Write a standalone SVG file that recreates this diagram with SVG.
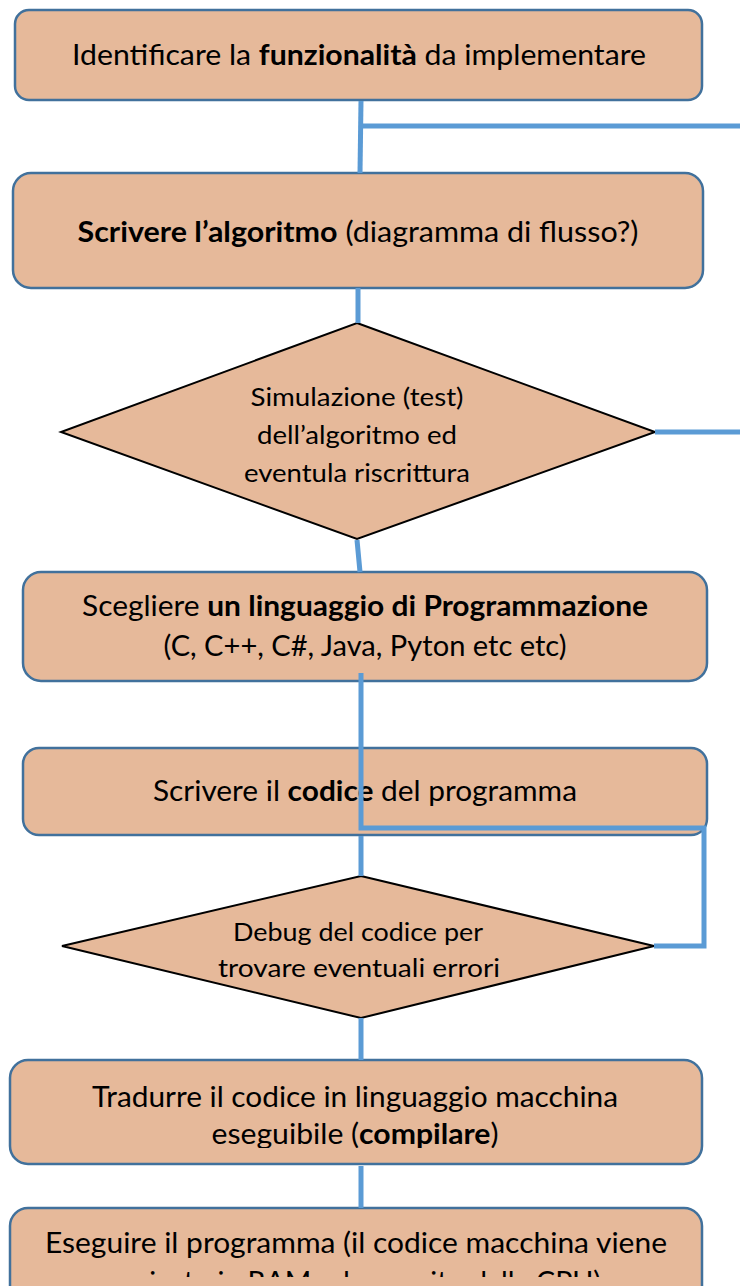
<svg xmlns="http://www.w3.org/2000/svg" width="740" height="1286" viewBox="0 0 740 1286">
<style>
.box{fill:#E6B99A;stroke:#41719C;stroke-width:2.5}
.dia{fill:#E6B99A;stroke:#000;stroke-width:2}
.t{font-family:Lato,"Open Sans","Liberation Sans",sans-serif;font-size:29px;fill:#000;text-anchor:middle}
.d{font-family:Lato,"Open Sans","Liberation Sans",sans-serif;font-size:25px;fill:#000;text-anchor:middle}
.b{font-weight:bold}
.c{fill:none;stroke:#5B9BD5;stroke-width:5}
</style>
<defs>
<clipPath id="clip5"><rect x="0" y="1060" width="740" height="88"/></clipPath>
<clipPath id="clip6"><rect x="0" y="1208" width="740" height="69"/></clipPath>
</defs>
<rect width="740" height="1286" fill="#fff"/>
<g id="n1"><rect class="box" x="15" y="10" width="687" height="90" rx="14"/>
<text class="t" x="359" y="65" textLength="574" lengthAdjust="spacingAndGlyphs">Identificare la <tspan class="b">funzionalità</tspan> da implementare</text></g>
<g id="n2"><rect class="box" x="13" y="173" width="690" height="115" rx="18"/>
<text class="t" x="358" y="242" textLength="561" lengthAdjust="spacingAndGlyphs"><tspan class="b">Scrivere l’algoritmo</tspan> (diagramma di flusso?)</text></g>
<g id="n3"><polygon class="dia" points="357,323 655,432 357,539 61,432"/>
<text class="d" x="357" y="406" textLength="213" lengthAdjust="spacingAndGlyphs">Simulazione (test)</text>
<text class="d" x="357" y="444" textLength="200" lengthAdjust="spacingAndGlyphs">dell’algoritmo ed</text>
<text class="d" x="357" y="482" textLength="226" lengthAdjust="spacingAndGlyphs">eventula riscrittura</text></g>
<g id="n4"><rect class="box" x="23" y="572" width="684" height="109" rx="18"/>
<text class="t" x="365" y="616" textLength="566" lengthAdjust="spacingAndGlyphs">Scegliere <tspan class="b">un linguaggio di Programmazione</tspan></text>
<text class="t" x="365" y="656" textLength="403" lengthAdjust="spacingAndGlyphs">(C, C++, C#, Java, Pyton etc etc)</text></g>
<g id="n5"><rect class="box" x="23" y="748" width="684" height="87" rx="16"/>
<text class="t" x="365" y="801" textLength="424" lengthAdjust="spacingAndGlyphs">Scrivere il <tspan class="b">codice</tspan> del programma</text></g>
<g id="n6"><polygon class="dia" points="361,876 654,946 361,1018 62,946"/>
<text class="d" x="358" y="941" textLength="250" lengthAdjust="spacingAndGlyphs">Debug del codice per</text>
<text class="d" x="359" y="977" textLength="282" lengthAdjust="spacingAndGlyphs">trovare eventuali errori</text></g>
<g id="n7"><rect class="box" x="10" y="1060" width="692" height="104" rx="18"/>
<g clip-path="url(#clip5)">
<text class="t" x="355" y="1107" textLength="526" lengthAdjust="spacingAndGlyphs">Tradurre il codice in linguaggio macchina</text>
<text class="t" x="355" y="1144" textLength="287" lengthAdjust="spacingAndGlyphs">eseguibile (<tspan class="b">compilare</tspan>)</text></g></g>
<g id="n8"><rect class="box" x="10" y="1208" width="692" height="100" rx="18"/>
<g clip-path="url(#clip6)">
<text class="t" x="356" y="1253" textLength="622" lengthAdjust="spacingAndGlyphs">Eseguire il programma (il codice macchina viene</text>
<text class="t" x="356" y="1292" textLength="490" lengthAdjust="spacingAndGlyphs">caricato in RAM ed eseguito dalla CPU)</text></g></g>
<g id="connectors">
<path class="c" d="M361,101 L360,173"/>
<path class="c" d="M360,126 L740,126"/>
<path class="c" d="M358,288 L358,323"/>
<path class="c" d="M655,432 L740,432"/>
<path class="c" d="M357,540 L360,572"/>
<path class="c" d="M361,673 L361,828 L704,828 L704,946 L654,946"/>
<path class="c" d="M361,836 L361,876"/>
<path class="c" d="M361,1018 L361,1060"/>
<path class="c" d="M361,1166 L361,1208"/>
</g>
</svg>
